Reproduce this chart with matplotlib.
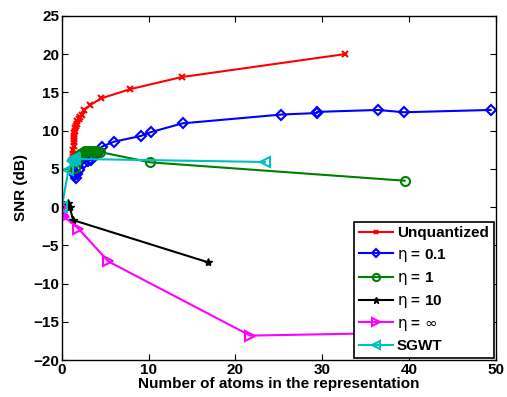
import numpy as np
import matplotlib
matplotlib.use('Agg')
import matplotlib.pyplot as plt

plt.rcParams['font.family'] = ['Liberation Sans', 'DejaVu Sans']
plt.rcParams['mathtext.fontset'] = 'dejavusans'

# Unquantized
unq_x = [1.2, 1.25, 1.25, 1.3, 1.3, 1.3, 1.35, 1.35, 1.4, 1.4, 1.45, 1.5, 1.55, 1.6, 1.7,
         1.8, 1.95, 2.1, 2.3, 2.6, 3.2, 4.5, 7.8, 13.8, 32.6]
unq_y = [5.0, 5.5, 6.0, 6.5, 7.0, 7.5, 8.0, 8.5, 8.9, 9.3, 9.7, 10.0, 10.3, 10.6, 10.9,
         11.2, 11.5, 11.8, 12.1, 12.7, 13.3, 14.2, 15.4, 17.0, 20.0]

# eta = 0.1
e01_x = [1.5, 1.6, 1.8, 2.0, 2.5, 3.0, 3.4, 4.0, 4.6, 6.0, 9.1, 10.25, 13.9, 25.3, 29.4, 29.4,
         36.4, 39.4, 49.4]
e01_y = [4.2, 3.8, 4.3, 4.8, 5.8, 6.0, 6.2, 7.0, 7.9, 8.55, 9.3, 9.8, 10.95, 12.1, 12.3, 12.45,
         12.7, 12.4, 12.7]

# eta = 1
e1_x = [1.5, 1.7, 1.9, 2.1, 2.3, 2.5, 2.7, 2.9, 3.1, 3.3, 3.5, 3.7, 3.9, 4.1, 4.4, 10.2, 39.5]
e1_y = [5.1, 6.0, 6.6, 6.9, 7.1, 7.2, 7.3, 7.3, 7.4, 7.4, 7.3, 7.2, 7.3, 7.4, 7.2, 5.85, 3.45]

# eta = 10
e10_x = [0.0, 0.3, 0.7, 0.9, 1.3, 16.8]
e10_y = [0.0, 0.3, 0.6, 0.0, -1.7, -7.2]

# eta = inf
einf_x = [0.0, 0.1, 0.3, 1.9, 5.35, 21.7, 46.0]
einf_y = [0.0, -1.0, -1.3, -2.8, -7.1, -16.8, -16.3]

# SGWT
sgwt_x = [0.0, 0.75, 1.2, 1.3, 1.4, 1.5, 23.4]
sgwt_y = [0.0, 4.85, 6.0, 6.3, 6.4, 6.3, 5.9]

fig = plt.figure(figsize=(5.07, 3.97), dpi=100)
ax = fig.add_axes([0.122, 0.093, 0.856, 0.867])

lw = 1.5
ax.plot(unq_x, unq_y, color='red', marker='x', ms=4, mew=1.5, lw=lw, label='Unquantized')
ax.plot(e01_x, e01_y, color='blue', marker='D', ms=5.5, mfc='none', mew=1.5, lw=lw,
        label=r'$\mathrm{\eta}$ = 0.1')
ax.plot(e1_x, e1_y, color='green', marker='o', ms=6.5, mfc='none', mew=1.5, lw=lw,
        label=r'$\mathrm{\eta}$ = 1')
ax.plot(e10_x, e10_y, color='black', marker='*', ms=6, lw=lw, label=r'$\mathrm{\eta}$ = 10')
ax.plot(einf_x, einf_y, color='magenta', marker='>', ms=7, mfc='none', mew=1.5, lw=lw,
        label=r'$\mathrm{\eta}$ = $\infty$')
ax.plot(sgwt_x, sgwt_y, color='c', marker='<', ms=7, mfc='none', mew=1.5, lw=lw,
        label='SGWT')

ax.set_xlim(0, 50)
ax.set_ylim(-20, 25)
ax.set_xticks(np.arange(0, 51, 10))
ax.set_yticks(np.arange(-20, 26, 5))
ax.set_yticklabels([str(v).replace('-', '\u2212') for v in range(-20, 26, 5)])
ax.tick_params(direction='in', top=True, right=True, labelsize=11, length=4, pad=2)
for lab in ax.get_xticklabels() + ax.get_yticklabels():
    lab.set_fontweight('bold')
for s in ax.spines.values():
    s.set_linewidth(1.0)

ax.set_xlabel('Number of atoms in the representation', fontsize=11, fontweight='bold',
              labelpad=0)
ax.set_ylabel('SNR (dB)', fontsize=11, fontweight='bold', labelpad=4)

leg = ax.legend(loc='lower right', prop={'weight': 'bold', 'size': 11}, fancybox=False,
                edgecolor='black', framealpha=1, borderaxespad=0.15, handlelength=2.2,
                handletextpad=0.3, labelspacing=0.42, borderpad=0.3, markerscale=0.8)
leg.get_frame().set_linewidth(1.2)

fig.savefig('out.png', dpi=100)
